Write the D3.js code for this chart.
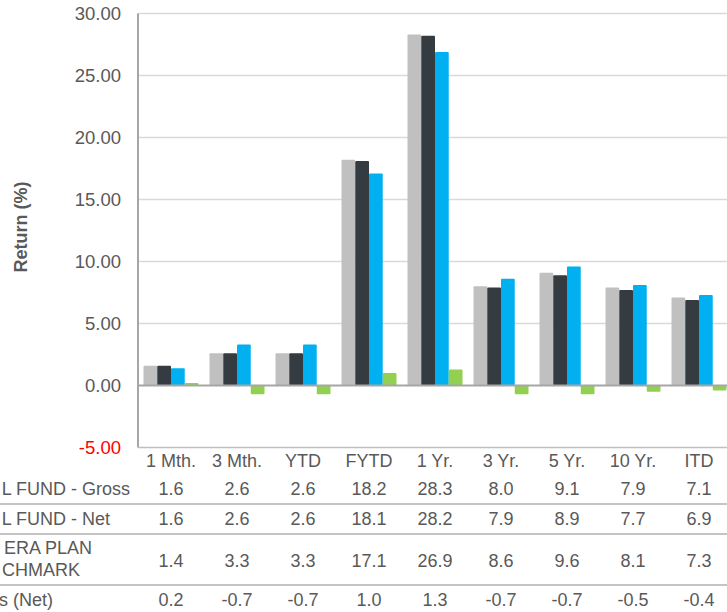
<!DOCTYPE html>
<html>
<head>
<meta charset="utf-8">
<script src="https://cdn.jsdelivr.net/npm/d3@7"></script>
<style>
  html, body { margin: 0; padding: 0; background: #fff; }
  svg { display: block; font-family: "Liberation Sans", Arial, sans-serif; }
</style>
</head>
<body>
<svg id="chart" width="727" height="612"></svg>
<script>
// Periods shown along the x axis and in the table header
const categories = ["1 Mth.", "3 Mth.", "YTD", "FYTD", "1 Yr.", "3 Yr.", "5 Yr.", "10 Yr.", "ITD"];

// Return series (%)
const fundGross = [1.6, 2.6, 2.6, 18.2, 28.3, 8.0, 9.1, 7.9, 7.1];
const fundNet   = [1.6, 2.6, 2.6, 18.1, 28.2, 7.9, 8.9, 7.7, 6.9];
const benchmark = [1.4, 3.3, 3.3, 17.1, 26.9, 8.6, 9.6, 8.1, 7.3];
const excessNet = [0.2, -0.7, -0.7, 1.0, 1.3, -0.7, -0.7, -0.5, -0.4];

// Row labels of the data table (the part that falls inside the page)
const rowLabels = [
  ["L FUND - Gross"],
  ["L FUND - Net"],
  ["ERA PLAN", "CHMARK"],
  ["s (Net)"]
];

const yTicks = [-5, 0, 5, 10, 15, 20, 25, 30];

const seriesKeys = ["gross", "net", "bench", "excess"];
const seriesValues = [fundGross, fundNet, benchmark, excessNet];
const seriesColors = ["#c0c0c0", "#343b41", "#00b0f0", "#92d050"];

const svg = d3.select("#chart");
svg.append("rect").attr("width", 727).attr("height", 612).attr("fill", "#fff");

const left = 138, band = 66;
const x = d3.scaleBand()
  .domain(categories)
  .range([left, left + band * categories.length])
  .padding(0);

const xs = d3.scaleBand()
  .domain(seriesKeys)
  .range([0, x.bandwidth()])
  .paddingInner(0)
  .paddingOuter(0.4);

const y = d3.scaleLinear().domain([-5, 30]).range([447.5, 13.5]);

const textColor = "#595959";
// plain hyphen-minus for negative numbers
const hy = s => s.replace("\u2212", "-");

// Gridlines
svg.append("g")
  .selectAll("line")
  .data(yTicks.filter(t => t > 0))
  .join("line")
  .attr("x1", left).attr("x2", 727)
  .attr("y1", d => y(d)).attr("y2", d => y(d))
  .attr("stroke", "#d9d9d9").attr("stroke-width", 1.5);

// Y axis tick labels
const f2 = d3.format(".2f");
const yAxis = d3.axisLeft(y).tickValues(yTicks).tickSize(0).tickPadding(0)
  .tickFormat(d => hy(f2(d)));
const yg = svg.append("g").attr("transform", "translate(121,0)").call(yAxis);
yg.select(".domain").remove();
yg.selectAll("text")
  .attr("font-size", 18.5)
  .attr("font-family", "'Liberation Sans', Arial, sans-serif")
  .attr("fill", d => d < 0 ? "#ff0000" : textColor);

// Y axis title
svg.append("text")
  .attr("transform", "translate(27,227) rotate(-90)")
  .attr("text-anchor", "middle")
  .attr("font-size", 18)
  .attr("font-weight", "bold")
  .attr("fill", textColor)
  .text("Return (%)");

// Bars
const groups = svg.append("g")
  .selectAll("g")
  .data(categories)
  .join("g")
  .attr("transform", d => `translate(${x(d)},0)`);

groups.selectAll("rect")
  .data((d, i) => seriesKeys.map((k, s) => ({ key: k, value: seriesValues[s][i], color: seriesColors[s] })))
  .join("rect")
  .attr("x", d => xs(d.key))
  .attr("width", xs.bandwidth())
  .attr("y", d => Math.min(y(d.value), y(0)))
  .attr("height", d => Math.abs(y(d.value) - y(0)))
  .attr("rx", 1)
  .attr("fill", d => d.color);

// Zero line and vertical axis
svg.append("line")
  .attr("x1", left).attr("x2", 727)
  .attr("y1", y(0)).attr("y2", y(0))
  .attr("stroke", "#a6a6a6").attr("stroke-width", 2);
svg.append("line")
  .attr("x1", left).attr("x2", left)
  .attr("y1", y(30)).attr("y2", y(-5))
  .attr("stroke", "#a6a6a6").attr("stroke-width", 2);

// Data table
const table = svg.append("g").attr("font-size", 18).attr("fill", textColor);

const borderYs = [504, 534, 585];
svg.append("line")
  .attr("x1", left).attr("x2", 727)
  .attr("y1", 447.5).attr("y2", 447.5)
  .attr("stroke", "#bfbfbf").attr("stroke-width", 1.5);
svg.append("g").selectAll("line")
  .data(borderYs)
  .join("line")
  .attr("x1", 0).attr("x2", 727)
  .attr("y1", d => d).attr("y2", d => d)
  .attr("stroke", "#b0b0b0").attr("stroke-width", 1.5);

// Header row
table.append("g").selectAll("text")
  .data(categories)
  .join("text")
  .attr("x", d => x(d) + x.bandwidth() / 2)
  .attr("y", 461)
  .attr("dy", "0.35em")
  .attr("text-anchor", "middle")
  .text(d => d);

// Value rows
const rowYs = [489, 519, 561, 600];
const fmt = d3.format(".1f");
seriesValues.forEach((vals, r) => {
  table.append("g").selectAll("text")
    .data(vals)
    .join("text")
    .attr("x", (d, i) => x(categories[i]) + x.bandwidth() / 2)
    .attr("y", rowYs[r])
    .attr("dy", "0.35em")
    .attr("text-anchor", "middle")
    .text(d => hy(fmt(d)));
});

// Row labels
const labelEnds = [[130], [110], [92, 80], [53]];
const labelLineYs = [[489], [519], [548, 570], [600]];
rowLabels.forEach((lines, r) => {
  lines.forEach((line, j) => {
    table.append("text")
      .attr("x", labelEnds[r][j])
      .attr("y", labelLineYs[r][j])
      .attr("dy", "0.35em")
      .attr("text-anchor", "end")
      .text(line);
  });
});
</script>
</body>
</html>
